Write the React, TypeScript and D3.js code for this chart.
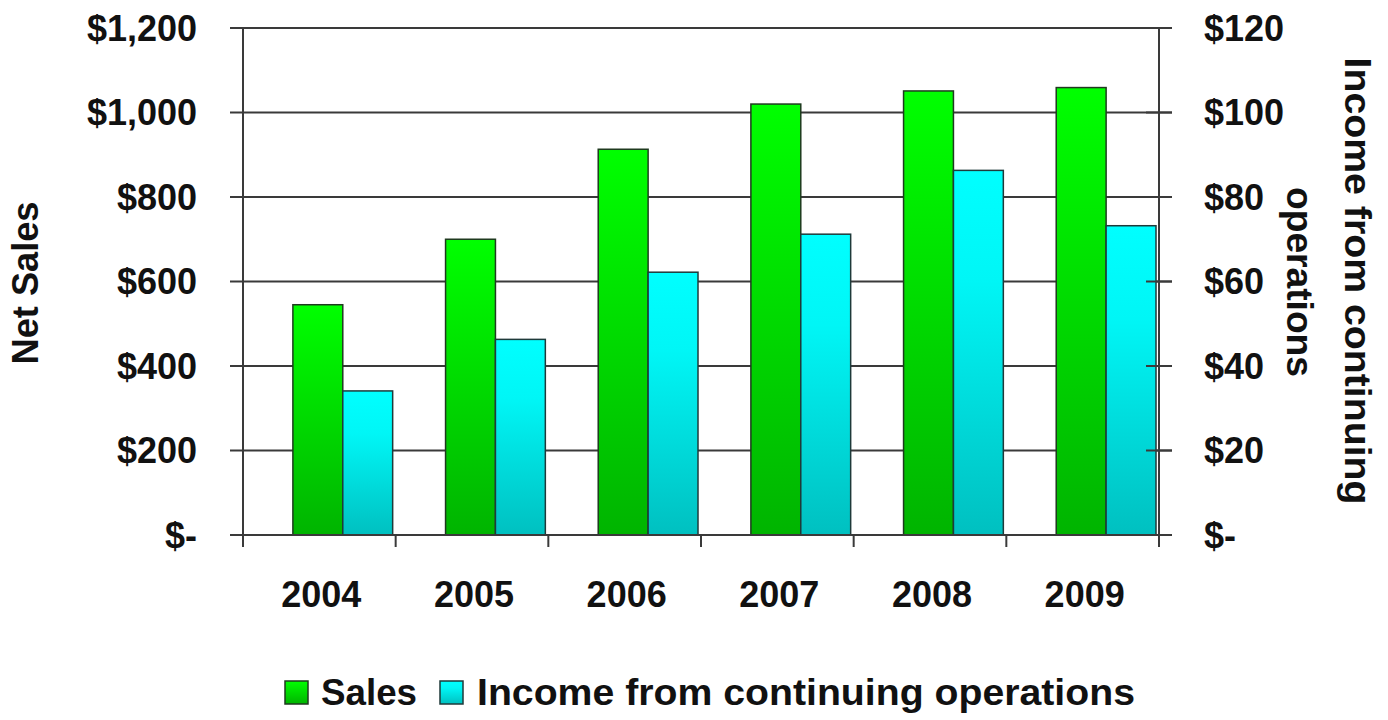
import React from "react";
import * as d3 from "d3";

const years = ["2004", "2005", "2006", "2007", "2008", "2009"];
const sales = [545, 700, 913, 1020, 1051, 1059];
const income = [34.1, 46.3, 62.2, 71.2, 86.3, 73.2];
const leftTicks = [0, 200, 400, 600, 800, 1000, 1200];
const rightTicks = [0, 20, 40, 60, 80, 100, 120];
const seriesNames = ["Sales", "Income from continuing operations"];

const W = 1388;
const H = 720;
const FONT = "'Liberation Sans', Arial, sans-serif";

export default function App() {
  const left = 243;
  const right = 1159;
  const top = 28;
  const bottom = 535;

  const x = d3.scaleBand<string>().domain(years).range([left, right]).padding(0);
  const sub = d3
    .scaleBand<string>()
    .domain(["gap", "Sales", "Income"])
    .range([0, x.bandwidth() - 3]);
  const yL = d3.scaleLinear().domain([0, 1200]).range([bottom, top]);
  const yR = d3.scaleLinear().domain([0, 120]).range([bottom, top]);
  const fmtL = (v: number) => (v === 0 ? "$-" : d3.format("$,")(v));
  const fmtR = (v: number) => (v === 0 ? "$-" : d3.format("$,")(v));

  const axisColor = "#3a3a3a";

  return (
    <svg
      width={W}
      height={H}
      style={{ position: "absolute", left: 0, top: 0, background: "#fff" }}
      fontFamily={FONT}
    >
      <defs>
        <linearGradient id="gGreen" x1="0" y1="0" x2="0" y2="1">
          <stop offset="0" stopColor="#00ff00" />
          <stop offset="1" stopColor="#00b400" />
        </linearGradient>
        <linearGradient id="gCyan" x1="0" y1="0" x2="0" y2="1">
          <stop offset="0" stopColor="#00ffff" />
          <stop offset="0.3" stopColor="#00f6f6" />
          <stop offset="1" stopColor="#00c0c0" />
        </linearGradient>
      </defs>

      {/* gridlines */}
      {leftTicks.map((t) => (
        <line
          key={"g" + t}
          x1={left - 13}
          x2={right + 13}
          y1={yL(t)}
          y2={yL(t)}
          stroke={axisColor}
          strokeWidth={2}
        />
      ))}

      {/* bars */}
      {years.map((yr, i) => (
        <g key={yr}>
          <rect
            x={(x(yr) as number) + (sub("Sales") as number)}
            y={yL(sales[i])}
            width={sub.bandwidth()}
            height={bottom - yL(sales[i])}
            fill="url(#gGreen)"
            stroke="#1f3a1f"
            strokeWidth={1.5}
          />
          <rect
            x={(x(yr) as number) + (sub("Income") as number)}
            y={yR(income[i])}
            width={sub.bandwidth()}
            height={bottom - yR(income[i])}
            fill="url(#gCyan)"
            stroke="#1f3a3a"
            strokeWidth={1.5}
          />
        </g>
      ))}

      {/* right axis ticks (over bars) */}
      {rightTicks.map((t) => (
        <line
          key={"rt" + t}
          x1={right - 13}
          x2={right + 13}
          y1={yR(t)}
          y2={yR(t)}
          stroke={axisColor}
          strokeWidth={2}
        />
      ))}

      {/* axes */}
      <line x1={left} x2={left} y1={top} y2={bottom + 12} stroke={axisColor} strokeWidth={2} />
      <line x1={right} x2={right} y1={top} y2={bottom + 12} stroke={axisColor} strokeWidth={2} />
      <line x1={left - 13} x2={right + 13} y1={bottom} y2={bottom} stroke={axisColor} strokeWidth={2} />
      {years.map((yr) => (
        <line
          key={"xt" + yr}
          x1={(x(yr) as number) + x.bandwidth()}
          x2={(x(yr) as number) + x.bandwidth()}
          y1={bottom}
          y2={bottom + 12}
          stroke={axisColor}
          strokeWidth={2}
        />
      ))}

      {/* left tick labels */}
      {leftTicks.map((t) => (
        <text
          key={"lt" + t}
          x={197}
          y={yL(t)}
          dy="0.36em"
          textAnchor="end"
          fontSize={36}
          fontWeight="bold"
          fill="#111"
        >
          {fmtL(t)}
        </text>
      ))}

      {/* right tick labels */}
      {rightTicks.map((t) => (
        <text
          key={"rl" + t}
          x={1204}
          y={yR(t)}
          dy="0.36em"
          textAnchor="start"
          fontSize={36}
          fontWeight="bold"
          fill="#111"
        >
          {fmtR(t)}
        </text>
      ))}

      {/* x labels */}
      {years.map((yr) => (
        <text
          key={"xl" + yr}
          x={(x(yr) as number) + x.bandwidth() / 2 + 2}
          y={594}
          dy="0.36em"
          textAnchor="middle"
          fontSize={36}
          fontWeight="bold"
          fill="#111"
        >
          {yr}
        </text>
      ))}

      {/* axis titles */}
      <text
        transform={`translate(25,283) rotate(-90)`}
        dy="0.36em"
        textAnchor="middle"
        fontSize={36}
        fontWeight="bold"
        fill="#111"
        textLength={163}
        lengthAdjust="spacingAndGlyphs"
      >
        Net Sales
      </text>
      <text
        transform={`translate(1358,281) rotate(90)`}
        dy="0.36em"
        textAnchor="middle"
        fontSize={37}
        fontWeight="bold"
        fill="#111"
        textLength={447}
        lengthAdjust="spacingAndGlyphs"
      >
        Income from continuing
      </text>
      <text
        transform={`translate(1300,282) rotate(90)`}
        dy="0.36em"
        textAnchor="middle"
        fontSize={37}
        fontWeight="bold"
        fill="#111"
        textLength={190}
        lengthAdjust="spacingAndGlyphs"
      >
        operations
      </text>

      {/* legend */}
      <g>
        <rect x={285} y={681} width={23} height={23} fill="url(#gGreen)" stroke="#1f3a1f" strokeWidth={1.5} />
        <text
          x={321}
          y={692}
          dy="0.36em"
          fontSize={37}
          fontWeight="bold"
          fill="#111"
          textLength={96}
          lengthAdjust="spacingAndGlyphs"
        >
          {seriesNames[0]}
        </text>
        <rect x={440} y={681} width={23} height={23} fill="url(#gCyan)" stroke="#1f3a3a" strokeWidth={1.5} />
        <text
          x={477}
          y={692}
          dy="0.36em"
          fontSize={37}
          fontWeight="bold"
          fill="#111"
          textLength={658}
          lengthAdjust="spacingAndGlyphs"
        >
          {seriesNames[1]}
        </text>
      </g>
    </svg>
  );
}
